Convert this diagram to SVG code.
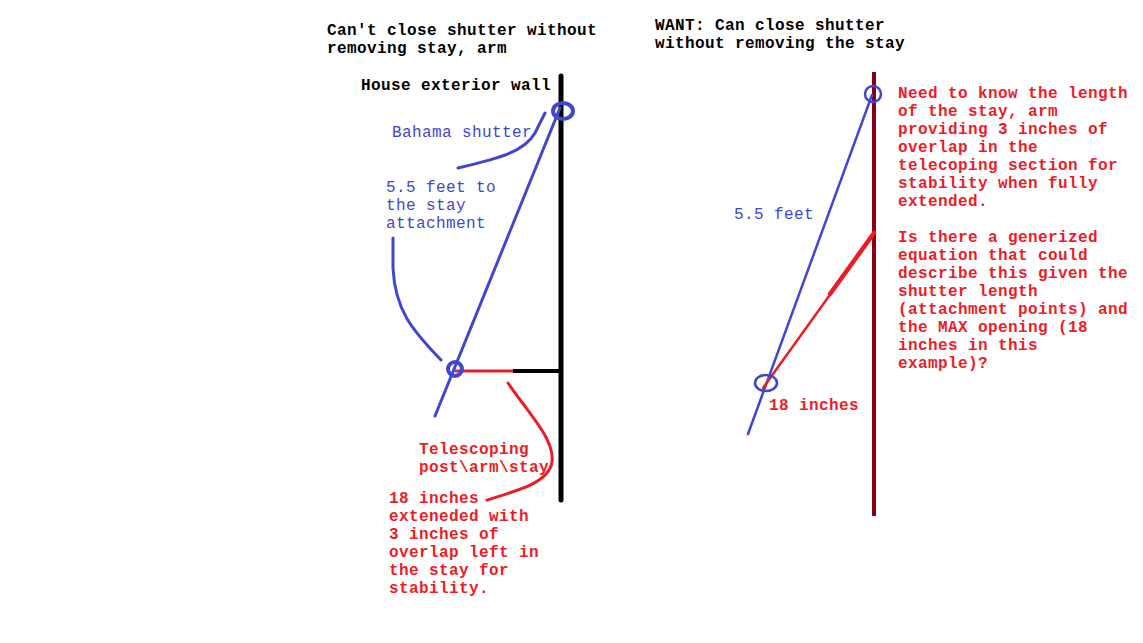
<svg xmlns="http://www.w3.org/2000/svg" width="1143" height="643" viewBox="0 0 1143 643">
<style>
text{font-family:"Liberation Mono","Courier New",monospace;font-size:16px;letter-spacing:0.4px;font-weight:bold}
.k{fill:#000}
.b{fill:#3f48cc;font-weight:normal}
.r{fill:#ed1c24}
.ln{fill:none;stroke-linecap:round}
</style>
<rect width="1143" height="643" fill="#fff"/>
<g id="connectors">
<line class="ln" x1="561" y1="76" x2="561" y2="500" stroke="#000" stroke-width="5"/>
<line x1="513" y1="371" x2="561" y2="371" stroke="#000" stroke-width="4"/>
<line x1="455" y1="371" x2="513" y2="371" stroke="#ed1c24" stroke-width="3"/>
<line class="ln" x1="435" y1="416" x2="560" y2="108" stroke="#3f48cc" stroke-width="3"/>
<ellipse cx="563" cy="111" rx="10" ry="8" fill="none" stroke="#3f48cc" stroke-width="4"/>
<circle cx="455" cy="369" r="7" fill="none" stroke="#3f48cc" stroke-width="4"/>
<path class="ln" d="M458,168 C500,158 524,152 535,133 L545,113" stroke="#3f48cc" stroke-width="3"/>
<path class="ln" d="M393,238 L393,268 C395,310 412,330 441,360" stroke="#3f48cc" stroke-width="3"/>
<path class="ln" d="M508,383 C530,415 555,440 552,462 C549,482 520,490 487,500" stroke="#ed1c24" stroke-width="3"/>
<line x1="874" y1="72" x2="874" y2="516" stroke="#880015" stroke-width="4"/>
<line class="ln" x1="748" y1="434" x2="872" y2="95" stroke="#3f48cc" stroke-width="2.5"/>
<circle cx="873" cy="94" r="8" fill="none" stroke="#3f48cc" stroke-width="2.5"/>
<line class="ln" x1="763" y1="388" x2="875" y2="232" stroke="#ed1c24" stroke-width="2.5"/>
<line class="ln" x1="830" y1="294" x2="874" y2="233" stroke="#ed1c24" stroke-width="4.5"/>
<ellipse cx="766" cy="383" rx="11" ry="8" fill="none" stroke="#3f48cc" stroke-width="2.5"/>
</g>
<g id="left-title"><text class="k" x="327" y="35">Can't close shutter without</text><text class="k" x="327" y="53">removing stay, arm</text></g>
<g id="wall-label"><text class="k" x="361" y="90">House exterior wall</text></g>
<g id="shutter-label"><text class="b" x="392" y="137">Bahama shutter</text></g>
<g id="feet-label"><text class="b" x="386" y="192">5.5 feet to</text><text class="b" x="386" y="210">the stay</text><text class="b" x="386" y="228">attachment</text></g>
<g id="telescoping-label"><text class="r" x="419" y="454">Telescoping</text><text class="r" x="419" y="472">post\arm\stay</text></g>
<g id="inches-label"><text class="r" x="389" y="503">18 inches</text><text class="r" x="389" y="521">exteneded with</text><text class="r" x="389" y="539">3 inches of</text><text class="r" x="389" y="557">overlap left in</text><text class="r" x="389" y="575">the stay for</text><text class="r" x="389" y="593">stability.</text></g>
<g id="right-title"><text class="k" x="655" y="30">WANT: Can close shutter</text><text class="k" x="655" y="48">without removing the stay</text></g>
<g id="right-feet"><text class="b" x="734" y="219">5.5 feet</text></g>
<g id="right-inches"><text class="r" x="769" y="410">18 inches</text></g>
<g id="question">
<text class="r" x="898" y="98">Need to know the length</text>
<text class="r" x="898" y="116">of the stay, arm</text>
<text class="r" x="898" y="134">providing 3 inches of</text>
<text class="r" x="898" y="152">overlap in the</text>
<text class="r" x="898" y="170">telecoping section for</text>
<text class="r" x="898" y="188">stability when fully</text>
<text class="r" x="898" y="206">extended.</text>
<text class="r" x="898" y="242">Is there a generized</text>
<text class="r" x="898" y="260">equation that could</text>
<text class="r" x="898" y="278">describe this given the</text>
<text class="r" x="898" y="296">shutter length</text>
<text class="r" x="898" y="314">(attachment points) and</text>
<text class="r" x="898" y="332">the MAX opening (18</text>
<text class="r" x="898" y="350">inches in this</text>
<text class="r" x="898" y="368">example)?</text>
</g>
</svg>
